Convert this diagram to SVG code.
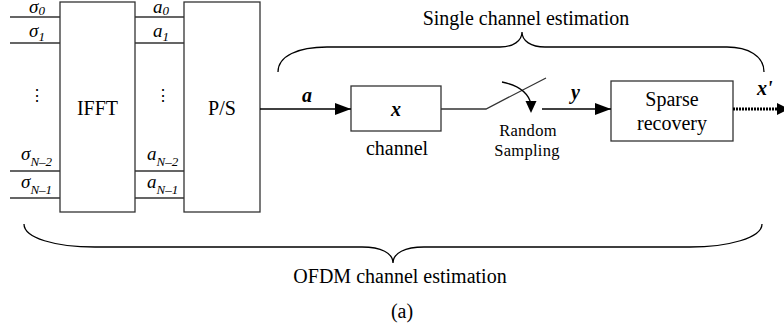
<svg xmlns="http://www.w3.org/2000/svg" width="784" height="332" viewBox="0 0 784 332">
<style>
.box{fill:#fff;stroke:#333;stroke-width:1.3}
.ln{fill:none;stroke:#333;stroke-width:1.3}
.ar{fill:none;stroke:#000;stroke-width:1.3}
.br{fill:none;stroke:#000;stroke-width:1.3}
text{font-family:'Liberation Serif','Times New Roman',serif;fill:#000}
.m{font-size:20px;text-anchor:middle}
.s{font-size:16.5px;text-anchor:middle;letter-spacing:0.3px}
.v{font-size:19px;font-style:italic}
.sub{font-size:13px;font-style:italic}
.bi{font-size:20px;font-style:italic;font-weight:bold}
.dots{font-size:16px;text-anchor:middle}
</style>
<defs>
<marker id="ah" markerWidth="16" markerHeight="12" refX="16" refY="6" orient="auto" markerUnits="userSpaceOnUse">
<path d="M0,0 L16,6 L0,12 Z" fill="#000"/>
</marker>
</defs>
<rect width="784" height="332" fill="#fff"/>

<g id="ifft">
<rect class="box" x="60" y="2" width="75" height="210"/>
<text class="m" x="97.5" y="115">IFFT</text>
</g>
<g id="ps">
<rect class="box" x="184" y="2" width="76" height="210"/>
<text class="m" x="222" y="115">P/S</text>
</g>
<g id="channel">
<rect class="box" x="351" y="86" width="90" height="45"/>
<text class="bi" x="396" y="116" text-anchor="middle">x</text>
<text class="m" x="397" y="155">channel</text>
</g>
<g id="sparse">
<rect class="box" x="611" y="81" width="122" height="60"/>
<text class="m" x="672" y="106">Sparse</text>
<text class="m" x="672" y="130">recovery</text>
</g>
<g id="sampling">
<text class="s" x="528" y="136">Random</text>
<text class="s" x="527" y="156">Sampling</text>
</g>

<g id="labels">
<text class="v" x="29" y="13">σ<tspan class="sub" dy="2">0</tspan></text>
<text class="v" x="29" y="37">σ<tspan class="sub" dy="4">1</tspan></text>
<text class="v" x="21" y="160">σ<tspan class="sub" dy="6">N–2</tspan></text>
<text class="v" x="21" y="188">σ<tspan class="sub" dy="6">N–1</tspan></text>
<text class="v" x="153" y="13">a<tspan class="sub" dy="2">0</tspan></text>
<text class="v" x="153" y="37">a<tspan class="sub" dy="4">1</tspan></text>
<text class="v" x="147" y="160">a<tspan class="sub" dy="6">N–2</tspan></text>
<text class="v" x="147" y="188">a<tspan class="sub" dy="6">N–1</tspan></text>
<text class="dots" x="37" y="101">⋮</text>
<text class="dots" x="163" y="101">⋮</text>
<text class="bi" x="302" y="102">a</text>
<text class="bi" x="571" y="99">y</text>
<text class="bi" x="757" y="95">x'</text>
<text class="m" x="526" y="25">Single channel estimation</text>
<text class="m" x="400" y="283">OFDM channel estimation</text>
<text class="m" x="402" y="318">(a)</text>
</g>

<g id="connectors">
<path class="ln" d="M10,17 H60 M10,43 H60 M10,171 H60 M10,198 H60"/>
<path class="ln" d="M135,17 H184 M135,43 H184 M135,171 H184 M135,198 H184"/>
<path class="ar" d="M260,109 H351" marker-end="url(#ah)"/>
<path class="ln" d="M441,109 H486 L546,78"/>
<path class="ar" d="M502,82 Q527,87 531,104"/>
<path d="M525.5,101 L536.5,101 L531,113 Z" fill="#000"/>
<path class="ar" d="M542,109 H611" marker-end="url(#ah)"/>
<path fill="none" stroke="#000" stroke-width="3" stroke-dasharray="2,1" d="M733,109 H779"/>
<path d="M777,103 L789,109 L777,115 Z" fill="#000"/>
<path class="br" d="M278,72 C278,56 298,47 327,47 L500,47 C513,47 522,41 522,32 C522,41 531,47 545,47 L727,47 C748,47 764,56 764,72"/>
<path class="br" d="M24,224 C24,238 55,247 95,247 L362,247 C381,247 393,253 393,263 C393,253 405,247 424,247 L690,247 C728,247 762,238 762,224"/>
</g>
</svg>
